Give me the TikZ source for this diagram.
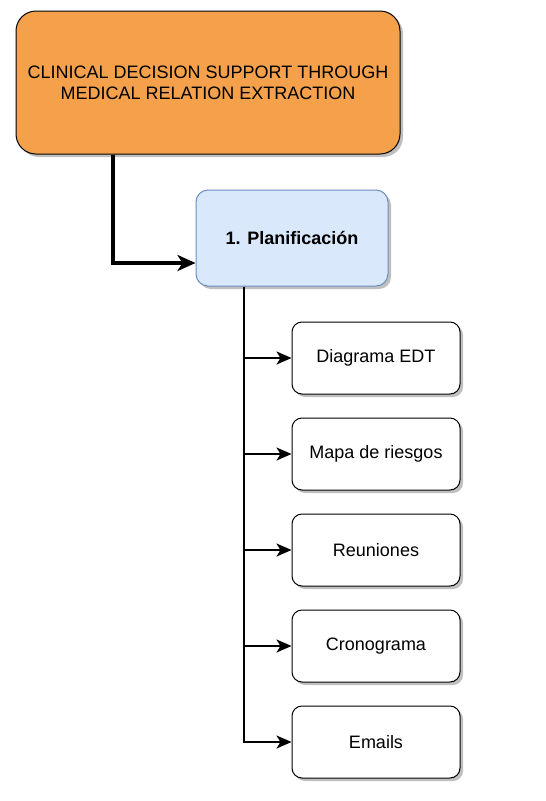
\documentclass[tikz,border=0pt]{standalone}
\usepackage{fontspec}
\setmainfont{Liberation Sans}
\usetikzlibrary{shadows,arrows.meta}
\definecolor{orangebox}{HTML}{F5A14B}
\definecolor{bluefill}{HTML}{DAE8FC}
\definecolor{blueline}{HTML}{6C8EBF}
\begin{document}
\begin{tikzpicture}[x=1pt,y=-1pt,
  shade/.style={drop shadow={shadow xshift=3pt,shadow yshift=-3pt,opacity=0.25,fill=black}},
  title/.style={draw,fill=orangebox,rounded corners=20pt,line width=1pt,shade,
    minimum width=384pt,minimum height=143pt,align=center,font=\fontsize{18}{21}\selectfont},
  phase/.style={draw=blueline,fill=bluefill,rounded corners=12pt,line width=1pt,shade,
    minimum width=192pt,minimum height=96pt,font=\bfseries\fontsize{18}{21}\selectfont},
  item/.style={draw,fill=white,rounded corners=10pt,line width=1pt,shade,
    minimum width=168pt,minimum height=72pt,font=\fontsize{18}{21}\selectfont},
  bigarrow/.style={line width=3.2pt,-{Stealth[length=18pt,width=16pt,inset=5pt]}},
  smallarrow/.style={line width=2.2pt,-{Stealth[length=15pt,width=13pt,inset=4pt]}}]
\useasboundingbox (0,0) rectangle (546,801);
\node[title] (title) at (208,82.5) {CLINICAL DECISION SUPPORT THROUGH\\MEDICAL RELATION EXTRACTION};
\node[phase] (plan) at (292,238) {1. Planificación};
\draw[bigarrow] ([xshift=-95pt]title.south) |- ([yshift=-25pt]plan.west);
% tareas
\foreach \t [count=\i] in {Diagrama EDT,Mapa de riesgos,Reuniones,Cronograma,Emails}
{
  \node[item] (item\i) at (376,262+96*\i) {\t};
  \draw[smallarrow] ([xshift=-48pt]plan.south) |- (item\i.west);
}
\end{tikzpicture}
\end{document}
